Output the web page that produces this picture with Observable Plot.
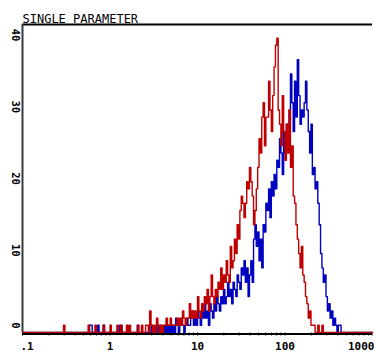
<!DOCTYPE html>
<html>
<head>
<meta charset="utf-8">
<script src="https://cdn.jsdelivr.net/npm/d3@7"></script>
<script src="https://cdn.jsdelivr.net/npm/@observablehq/plot@0.6"></script>
<style>
  html, body { margin: 0; padding: 0; background: #fff; }
  #chart svg { display: block; }
  [aria-label^="x-axis"] line, [aria-label^="x-axis"] path { stroke: #8a8a8a; }
</style>
</head>
<body>
<div id="chart"></div>
<script>
// ---- data (256 log channels over 4 decades, 0.1 .. 1000) ----
const nChannels = 256;
const title = "SINGLE PARAMETER";
const xTickLabels = [".1", "1", "10", "100", "1000"];
const xTickValues = [0.1, 1, 10, 100, 1000];
const yTickValues = [0, 10, 20, 30, 40];

const redStart = 28;
const redCounts = [
  0,0,1,0,0,0,0,0,0,0,0,0,0,0,0,0,0,0,0,0, // 28-47
  1,0,0,0,0,1,0,0,0,0,0,1,0,0,0,0,1,0,0,0, // 48-67
  0,1,0,0,1,0,0,0,1,0,1,0,0,0,0,0,1,0,0,1, // 68-87
  0,0,1,1,0,3,1,0,1,0,2,1,0,1,0,1,1,2,1,1, // 88-107
  2,1,1,1,1,2,1,2,1,3,2,1,2,2,4,2,3,2,3,2, // 108-127
  5,3,2,4,3,5,4,6,3,5,8,5,4,6,5,7,6,9,6,8, // 128-147
  7,10,8,7,12,9,10,13,11,15,13,17,19,18,16,18,21,20,23,21, // 148-167
  19,15,17,20,23,27,25,30,32,26,30,30,35,31,28,33,37,40,41,31, // 168-187
  29,26,33,28,24,29,25,31,23,26,19,18,15,13,11,9,12,8,7,5, // 188-207
  4,2,3,1,1,1,0,0,1,0,0,1,0,0 // 208-221
];

const blueStart = 48;
const blueCounts = [
  0,1,1,0,0,0,0,1,0,0,0,1,0,0,0,0,0,0,0,0, // 48-67
  0,0,0,1,0,0,0,0,0,0,0,0,0,0,0,0,1,0,0,0, // 68-87
  0,0,0,0,0,0,1,0,0,0,0,1,0,1,0,0,1,0,1,0, // 88-107
  1,0,1,0,2,1,0,1,2,1,0,1,2,1,1,2,3,1,2,1, // 108-127
  3,2,1,3,2,4,2,3,1,4,3,2,4,3,5,4,3,5,4,6, // 128-147
  4,5,7,5,6,4,7,6,5,8,7,6,9,8,10,7,9,5,8,10, // 148-167
  7,13,15,12,14,10,13,9,15,14,18,17,20,16,21,19,22,20,24,23, // 168-187
  27,25,22,28,25,29,26,31,36,32,28,35,30,38,33,29,31,30,32,35, // 188-207
  31,28,25,29,22,23,20,21,18,15,11,9,7,8,5,3,4,2,3,1, // 208-227
  2,1,0,1,1,0,0,0 // 228-235
];

// ---- build step series over the full channel range ----
function series(start, counts, name) {
  const rows = [];
  for (let c = 0; c <= nChannels; c++) {
    const k = c - start;
    const v = (c < nChannels && k >= 0 && k < counts.length) ? counts[k] : 0;
    rows.push({ x: Math.pow(10, -1 + 4 * c / nChannels), y: v, s: name });
  }
  return rows;
}
const blue = series(blueStart, blueCounts, "blue");
const red = series(redStart, redCounts, "red");

const minorTicks = [];
for (let e = -1; e < 3; e++) for (let m = 1; m < 10; m++) minorTicks.push(m * Math.pow(10, e));
minorTicks.push(1000);

const yTop = 42.9;
const mono = "'DejaVu Sans Mono', 'Liberation Mono', monospace";
const last = xTickValues.length - 1;
const xLabelStyle = { frameAnchor: "bottom", dy: 17, fontSize: 11, fontWeight: "bold", fill: "#000" };

const chart = Plot.plot({
  width: 374,
  height: 358,
  marginTop: 24,
  marginBottom: 26,
  marginLeft: 22,
  marginRight: 2,
  style: { background: "#fff", fontFamily: mono },
  x: { type: "log", domain: [0.1, 1000], ticks: minorTicks, tickSize: 4, tickFormat: () => "", label: null },
  y: { domain: [0, yTop], axis: null },
  marks: [
    // histograms
    Plot.line(blue, { x: "x", y: "y", curve: "step-after", stroke: "#0000c0", strokeWidth: 1.4 }),
    Plot.line(red, { x: "x", y: "y", curve: "step-after", stroke: "#c00000", strokeWidth: 1.4 }),
    // frame lines
    Plot.ruleY([yTop], { stroke: "#000", strokeWidth: 2 }),
    Plot.ruleY([0], { stroke: "#000", strokeWidth: 2, dy: 1.5 }),
    Plot.ruleX([0.1], { stroke: "#3a3a3a", strokeWidth: 2, y1: 0, y2: yTop }),
    // x tick labels
    Plot.text([0], { ...xLabelStyle, x: () => xTickValues[0], text: () => xTickLabels[0], textAnchor: "start", dx: -2 }),
    Plot.text(xTickValues.slice(1, last), {
      ...xLabelStyle, x: d => d, text: (d, i) => xTickLabels[i + 1], textAnchor: "middle"
    }),
    Plot.text([0], { ...xLabelStyle, x: () => xTickValues[last], text: () => xTickLabels[last], textAnchor: "end", dx: 2 }),
    // y tick labels (rotated)
    Plot.text(yTickValues, {
      y: d => d, frameAnchor: "left", dx: -7, dy: -4,
      text: d => String(d), rotate: 90, textAnchor: "end",
      fontSize: 10.5, fontWeight: "bold", fill: "#000"
    }),
    // title
    Plot.text([title], {
      frameAnchor: "top-left", dy: -10, text: d => d, textAnchor: "start",
      fontSize: 12, fill: "#000", letterSpacing: 0.8
    })
  ]
});
document.getElementById("chart").appendChild(chart);
</script>
</body>
</html>
